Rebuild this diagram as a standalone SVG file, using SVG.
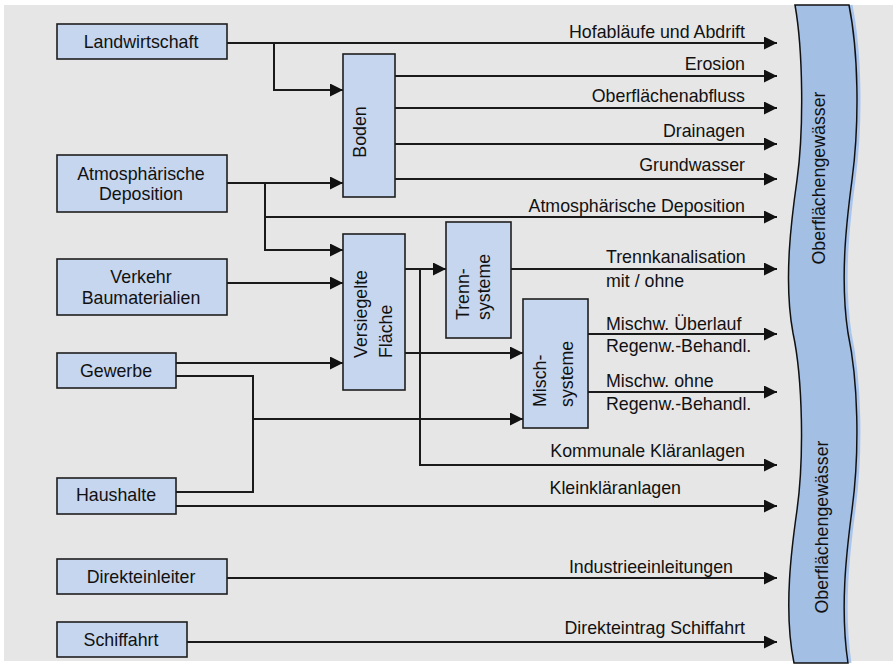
<svg xmlns="http://www.w3.org/2000/svg" width="893" height="665" viewBox="0 0 893 665">
<style>
.bg{fill:#e6e6e6}
.box{fill:#c6d6ee;stroke:#1e1e1e;stroke-width:1.6}
.t{font-family:"Liberation Sans",Arial,sans-serif;font-size:17.8px;fill:#111}
.m{text-anchor:middle}
.e{text-anchor:end}
.c{fill:none;stroke:#1a1a1a;stroke-width:2}
.river{fill:#a3bfe3;stroke:#111;stroke-width:1.5}
</style>
<defs>
<marker id="arr" markerUnits="userSpaceOnUse" markerWidth="13" markerHeight="13" refX="13" refY="6.5" orient="auto">
<path d="M0,0 L13,6.5 L0,13 Z" fill="#111"/>
</marker>
</defs>
<rect x="0" y="0" width="893" height="665" fill="#ffffff"/>
<rect class="bg" x="4" y="5" width="889" height="656"/>

<g id="river">
<path d="M851,5 C860,50 862,120 854,180 C848,225 842,280 850,333 C860,380 862,450 854,510 C848,555 842,610 850,663" fill="none" stroke="#a9c5ee" stroke-width="3"/>
<path class="river" d="M795,5 C803,50 804,130 797,180 C792,215 783,280 793,333 C803,380 804,460 797,510 C792,545 783,610 794,663 L848,663 C840,610 846,555 852,510 C860,450 858,380 848,333 C840,280 846,225 852,180 C860,120 858,50 849,5 Z"/>
<text class="t m" transform="translate(825,178) rotate(-90)">Oberflächengewässer</text>
<text class="t m" transform="translate(828,527) rotate(-90)">Oberflächengewässer</text>
</g>

<g id="connectors">
<path class="c" d="M227,43 H777" marker-end="url(#arr)"/>
<path class="c" d="M274,43 V90 H343" marker-end="url(#arr)"/>
<path class="c" d="M227,183 H343" marker-end="url(#arr)"/>
<path class="c" d="M265,183 V250 H343" marker-end="url(#arr)"/>
<path class="c" d="M265,217 H777" marker-end="url(#arr)"/>
<path class="c" d="M395,76 H777" marker-end="url(#arr)"/>
<path class="c" d="M395,108 H777" marker-end="url(#arr)"/>
<path class="c" d="M395,144 H777" marker-end="url(#arr)"/>
<path class="c" d="M395,179 H777" marker-end="url(#arr)"/>
<path class="c" d="M227,283 H343" marker-end="url(#arr)"/>
<path class="c" d="M176,363 H343" marker-end="url(#arr)"/>
<path class="c" d="M176,376 H253 V492 H176"/>
<path class="c" d="M253,419 H523" marker-end="url(#arr)"/>
<path class="c" d="M405,269 H446" marker-end="url(#arr)"/>
<path class="c" d="M420,269 V465 H777" marker-end="url(#arr)"/>
<path class="c" d="M405,353 H523" marker-end="url(#arr)"/>
<path class="c" d="M511,269 H777" marker-end="url(#arr)"/>
<path class="c" d="M588,334 H777" marker-end="url(#arr)"/>
<path class="c" d="M588,392 H777" marker-end="url(#arr)"/>
<path class="c" d="M176,506 H777" marker-end="url(#arr)"/>
<path class="c" d="M227,578 H777" marker-end="url(#arr)"/>
<path class="c" d="M187,642 H777" marker-end="url(#arr)"/>
</g>

<g id="labels">
<text class="t e" x="745" y="38">Hofabläufe und Abdrift</text>
<text class="t e" x="745" y="70">Erosion</text>
<text class="t e" x="745" y="102">Oberflächenabfluss</text>
<text class="t e" x="745" y="137">Drainagen</text>
<text class="t e" x="745" y="171">Grundwasser</text>
<text class="t e" x="745" y="212">Atmosphärische Deposition</text>
<text class="t" x="606" y="263">Trennkanalisation</text>
<text class="t" x="606" y="287">mit / ohne</text>
<text class="t" x="606" y="330">Mischw. Überlauf</text>
<text class="t" x="606" y="352">Regenw.-Behandl.</text>
<text class="t" x="606" y="387">Mischw. ohne</text>
<text class="t" x="606" y="410">Regenw.-Behandl.</text>
<text class="t e" x="745" y="457">Kommunale Kläranlagen</text>
<text class="t e" x="681" y="494">Kleinkläranlagen</text>
<text class="t e" x="733" y="573">Industrieeinleitungen</text>
<text class="t e" x="745" y="634">Direkteintrag Schiffahrt</text>
</g>

<g id="landwirtschaft">
<rect class="box" x="57" y="24" width="170" height="35"/>
<text class="t m" x="141" y="48">Landwirtschaft</text>
</g>
<g id="atmosphaerische-deposition">
<rect class="box" x="57" y="155" width="170" height="57"/>
<text class="t m" x="141" y="180">Atmosphärische</text>
<text class="t m" x="141" y="200">Deposition</text>
</g>
<g id="verkehr">
<rect class="box" x="57" y="259" width="170" height="56"/>
<text class="t m" x="141" y="283">Verkehr</text>
<text class="t m" x="141" y="304">Baumaterialien</text>
</g>
<g id="gewerbe">
<rect class="box" x="57" y="353" width="119" height="35"/>
<text class="t m" x="116" y="377">Gewerbe</text>
</g>
<g id="haushalte">
<rect class="box" x="57" y="478" width="119" height="36"/>
<text class="t m" x="116" y="501">Haushalte</text>
</g>
<g id="direkteinleiter">
<rect class="box" x="57" y="559" width="170" height="35"/>
<text class="t m" x="141" y="583">Direkteinleiter</text>
</g>
<g id="schiffahrt">
<rect class="box" x="57" y="622" width="130" height="35"/>
<text class="t m" x="121" y="646">Schiffahrt</text>
</g>
<g id="boden">
<rect class="box" x="343" y="54" width="52" height="143"/>
<text class="t m" transform="translate(366,132) rotate(-90)">Boden</text>
</g>
<g id="versiegelte-flaeche">
<rect class="box" x="343" y="234" width="62" height="156"/>
<text class="t" transform="translate(367,358) rotate(-90)">Versiegelte</text>
<text class="t" transform="translate(391.5,358) rotate(-90)">Fläche</text>
</g>
<g id="trennsysteme">
<rect class="box" x="446" y="222" width="65" height="116"/>
<text class="t" transform="translate(469,320) rotate(-90)">Trenn-</text>
<text class="t" transform="translate(490,320) rotate(-90)">systeme</text>
</g>
<g id="mischsysteme">
<rect class="box" x="523" y="299" width="65" height="129"/>
<text class="t" transform="translate(546,407) rotate(-90)">Misch-</text>
<text class="t" transform="translate(573,407) rotate(-90)">systeme</text>
</g>
</svg>
